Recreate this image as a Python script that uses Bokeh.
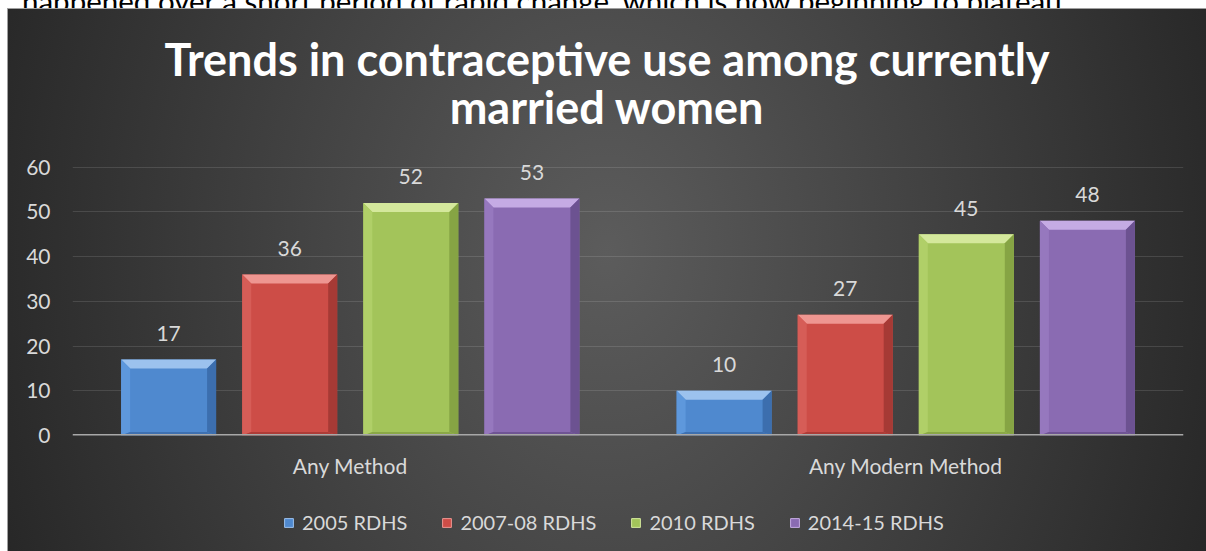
import numpy as np
from bokeh.plotting import figure
from bokeh.models import (Range1d, FixedTicker, Span, Label, LabelSet, Legend,
                          LegendItem, ColumnDataSource, Div)
from bokeh.core.properties import value
from bokeh.layouts import column
from bokeh.embed import file_html
from bokeh.resources import INLINE

# ---------------- data ----------------
categories = ["Any Method", "Any Modern Method"]
series_names = ["2005 RDHS", "2007-08 RDHS", "2010 RDHS", "2014-15 RDHS"]
values_2005 = [17, 10]
values_2007_08 = [36, 27]
values_2010 = [52, 45]
values_2014_15 = [53, 48]
y_ticks = [0, 10, 20, 30, 40, 50, 60]
title_lines = ["Trends in contraceptive use among currently", "married women"]
intro_text = "happened over a short period of rapid change, which is now beginning to plateau."

series_values = [values_2005, values_2007_08, values_2010, values_2014_15]

# ---------------- style / layout constants ----------------
FONT = "Lato"
TXT = "#d9d9d9"
PANEL_W = 1199
MAIN_H, LEG_H = 472, 71
LEFT, RIGHT, BOTTOM = 65, 23, 44
AXIS_PX = 269                       # pixels spanned by the 0..60 value axis
frame_w = PANEL_W - LEFT - RIGHT
frame_h = MAIN_H - BOTTOM           # frame runs up to the top of the panel
px_x = frame_w / len(categories)
px_y = AXIS_PX / (y_ticks[-1] - y_ticks[0])
y_end = frame_h / px_y              # headroom above the axis holds the title
BEVEL = 9
bx = BEVEL / px_x
by = BEVEL / px_y
offsets = [-0.327, -0.109, 0.109, 0.327]
bar_w = 0.171

palette = [
    dict(body="#4f89cf", top="#9cc2ee", left="#5e98dc", right="#3c6eae", bottom="#3e70b0"),
    dict(body="#cd4d47", top="#ee9691", left="#d65d57", right="#a63a35", bottom="#ad3c37"),
    dict(body="#a3c45a", top="#d4e89c", left="#b0cf68", right="#86a444", bottom="#8aa846"),
    dict(body="#8a6bb2", top="#c5abe4", left="#9678be", right="#6c5291", bottom="#6f5494"),
]


def clear(fig):
    fig.title.visible = False
    fig.outline_line_color = None
    fig.border_fill_alpha = 0
    fig.background_fill_alpha = 0


p = figure(width=PANEL_W, height=MAIN_H, x_range=Range1d(0, len(categories)),
           y_range=Range1d(y_ticks[0], y_end), output_backend="svg",
           toolbar_location=None, min_border_left=LEFT, min_border_right=RIGHT,
           min_border_top=0, min_border_bottom=BOTTOM, margin=0)
clear(p)

p.xgrid.visible = False
p.ygrid.ticker = FixedTicker(ticks=y_ticks[1:])
p.ygrid.grid_line_color = "white"
p.ygrid.grid_line_alpha = 0.12

centers = [i + 0.5 for i in range(len(categories))]

for s, (name, vals, col) in enumerate(zip(series_names, series_values, palette)):
    xs = [c + offsets[s] for c in centers]
    src = ColumnDataSource(dict(x=xs, top=vals, text=[str(v) for v in vals]))
    p.vbar(x="x", top="top", bottom=0, width=bar_w, source=src,
           fill_color=col["body"], line_color=None)
    # bevel facets
    for side in ["top", "left", "right", "bottom"]:
        pxs, pys = [], []
        for x, v in zip(xs, vals):
            x0, x1 = x - bar_w / 2, x + bar_w / 2
            if side == "top":
                pxs.append([x0, x1, x1 - bx, x0 + bx]); pys.append([v, v, v - by, v - by])
            elif side == "left":
                pxs.append([x0, x0, x0 + bx, x0 + bx]); pys.append([0, v, v - by, by * 0.4])
            elif side == "right":
                pxs.append([x1, x1, x1 - bx, x1 - bx]); pys.append([0, v, v - by, by * 0.4])
            else:
                pxs.append([x0, x1, x1 - bx, x0 + bx]); pys.append([0, 0, by * 0.4, by * 0.4])
        p.patches(xs=pxs, ys=pys, fill_color=col[side], line_color=None)
    p.add_layout(LabelSet(x="x", y="top", text="text", source=src, y_offset=26,
                          text_align="center", text_baseline="middle",
                          text_font=value(FONT), text_font_size=value("21px"),
                          text_color=value(TXT)))

p.add_layout(Span(location=0, dimension="width", line_color="#a8a8a8", line_width=3))

# axes
p.yaxis.ticker = FixedTicker(ticks=y_ticks)
p.yaxis.axis_line_color = None
p.yaxis.major_tick_line_color = None
p.yaxis.minor_tick_line_color = None
p.yaxis.major_tick_out = 0
p.yaxis.major_tick_in = 0
p.yaxis.major_label_standoff = 22
p.yaxis.major_label_text_font = FONT
p.yaxis.major_label_text_font_size = "21px"
p.yaxis.major_label_text_color = TXT

p.xaxis.ticker = FixedTicker(ticks=centers)
p.xaxis.major_label_overrides = {c: cat for c, cat in zip(centers, categories)}
p.xaxis.axis_line_color = None
p.xaxis.major_tick_line_color = None
p.xaxis.minor_tick_line_color = None
p.xaxis.major_tick_out = 0
p.xaxis.major_tick_in = 0
p.xaxis.major_label_standoff = 17
p.xaxis.major_label_text_font = FONT
p.xaxis.major_label_text_font_size = "21px"
p.xaxis.major_label_text_color = TXT

# title, in the headroom above the value axis
for line, yoff in zip(title_lines, [108, 60]):
    p.add_layout(Label(x=len(categories) / 2, y=y_ticks[-1], x_offset=-21, y_offset=yoff,
                       text=line, text_align="center", text_baseline="middle",
                       text_font=FONT, text_font_style="bold", text_font_size="45px",
                       text_color="white"))

# legend strip (its own small frame, so the legend is not clipped)
lg = figure(width=PANEL_W, height=LEG_H, x_range=Range1d(0, 1), y_range=Range1d(0, 1),
            output_backend="svg", toolbar_location=None, min_border=0, margin=0)
clear(lg)
lg.axis.visible = False
lg.grid.visible = False
items = []
for name, col in zip(series_names, palette):
    # swatch-only renderer: no drawable coordinates, just the series colour
    r = lg.vbar(x=np.array([np.nan]), top=np.array([np.nan]), width=0.1,
                fill_color=col["body"], line_color=col["top"], line_width=1)
    items.append(LegendItem(label=name, renderers=[r]))
legend = Legend(items=items, orientation="horizontal", location=(211, 17),
                glyph_width=11, glyph_height=11, label_standoff=8, spacing=34,
                padding=0, margin=0, border_line_color=None, background_fill_alpha=0,
                label_text_font=FONT, label_text_font_size="20px", label_text_color=TXT)
lg.add_layout(legend)

panel = column(p, lg, spacing=0, margin=(0, 0, 0, 7), styles={
    "background": "radial-gradient(ellipse 660px 850px at 50% 45%, #5c5c5c 0%, #262626 100%)",
    "box-shadow": "inset 1px 1px 0 #a0a0a0",
})

intro = Div(text=(f'<div style="margin-top:-22px;margin-left:22px;font-family:Lato;'
                  f'font-size:29.5px;line-height:1.2;white-space:nowrap;color:black">{intro_text}</div>'),
            width=1206, height=8, margin=0, styles={"overflow": "hidden"})

layout = column(intro, panel, spacing=0)
open("out.html", "w").write(file_html(layout, INLINE))
